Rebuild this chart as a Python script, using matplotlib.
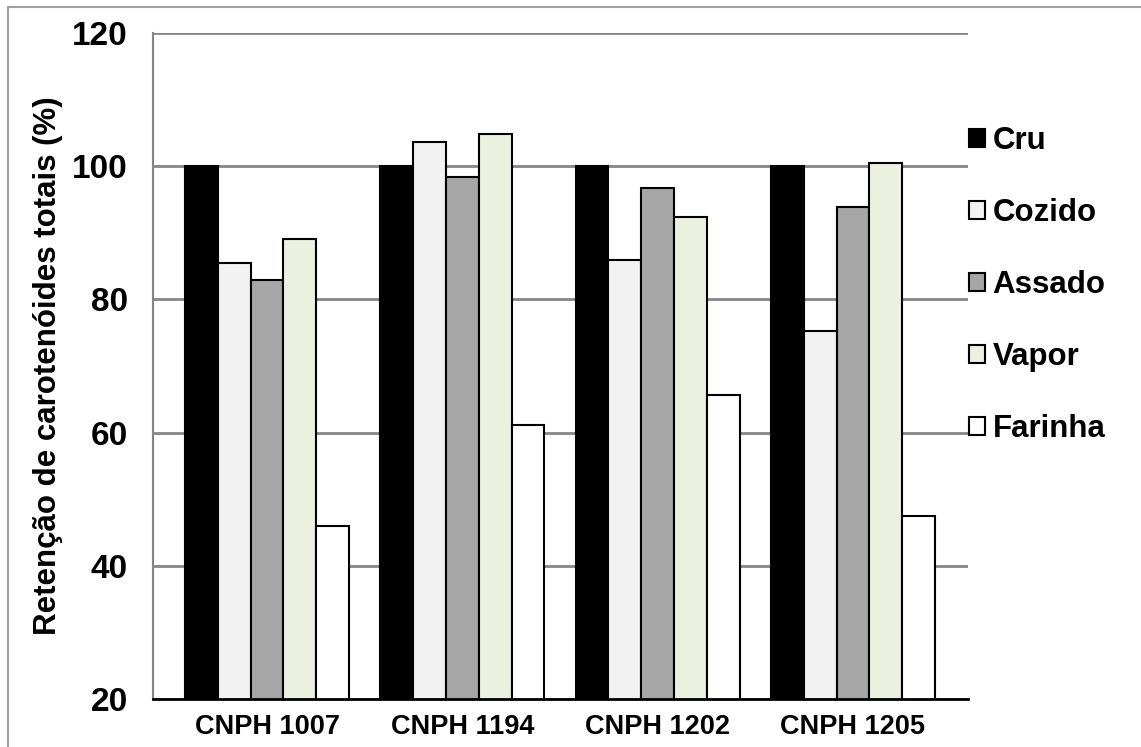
import matplotlib.pyplot as plt
import numpy as np
from matplotlib.patches import Patch
from matplotlib.lines import Line2D

plt.rcParams['font.family'] = ['Liberation Sans', 'DejaVu Sans']
plt.rcParams['font.weight'] = 'bold'

genotipos = ['CNPH 1007', 'CNPH 1194', 'CNPH 1202', 'CNPH 1205']
tratamentos = ['Cru', 'Cozido', 'Assado', 'Vapor', 'Farinha']
cru = [100, 100, 100, 100]
cozido = [85.4, 103.6, 85.9, 75.2]
assado = [82.9, 98.4, 96.7, 93.9]
vapor = [89.1, 104.9, 92.3, 100.5]
farinha = [45.9, 61.2, 65.7, 47.5]
cores = ['#000000', '#f2f2f2', '#a6a6a6', '#ebf1de', '#ffffff']

fig = plt.figure(figsize=(11.41, 7.47), dpi=100)
ax = fig.add_axes([0.1341, 0.0643, 0.7143, 0.8915])

x = np.arange(len(genotipos))
w = 0.168
series = [cru, cozido, assado, vapor, farinha]
for i, (vals, cor) in enumerate(zip(series, cores)):
    ax.bar(x + (i - 2) * w, vals, w, bottom=0, color=cor,
           edgecolor='black', linewidth=1.5, zorder=3)

ax.set_ylim(20, 120)
ax.set_xlim(-0.584, 3.589)
ax.set_yticks(np.arange(20, 121, 20))
ax.set_xticks(x)
ax.set_xticklabels(genotipos, fontsize=19.5, fontweight='bold')
ax.tick_params(axis='y', labelsize=24, length=0, pad=18)
ax.tick_params(axis='x', length=0, pad=11)
ax.yaxis.grid(True, color='#868686', linewidth=2, zorder=0)
ax.set_axisbelow(True)

for s in ['top', 'right']:
    ax.spines[s].set_visible(False)
ax.spines['left'].set_color('#868686')
ax.spines['left'].set_linewidth(1.5)
ax.spines['bottom'].set_color('#000000')
ax.spines['bottom'].set_linewidth(2)
ax.spines['bottom'].set_zorder(4)

ax.set_ylabel('Retenção de carotenóides totais (%)', fontsize=22.5,
              fontweight='bold', labelpad=7)

handles = [Patch(facecolor=c, edgecolor='black', linewidth=1.5) for c in cores]
fig.legend(handles, tratamentos, loc='center left',
           bbox_to_anchor=(0.849, 0.6185), frameon=False,
           prop={'size': 22.5, 'weight': 'bold'}, handlelength=0.51,
           handleheight=0.51, handletextpad=0.25, labelspacing=1.34,
           borderpad=0, borderaxespad=0)

# moldura cinza no topo e à esquerda
fig.add_artist(Line2D([8 / 1141, 1], [1 - 7 / 747, 1 - 7 / 747],
                      color='#a0a0a0', linewidth=1.5))
fig.add_artist(Line2D([8 / 1141, 8 / 1141], [0, 1 - 7 / 747],
                      color='#a0a0a0', linewidth=1.5))

fig.savefig('out.png', dpi=100)
